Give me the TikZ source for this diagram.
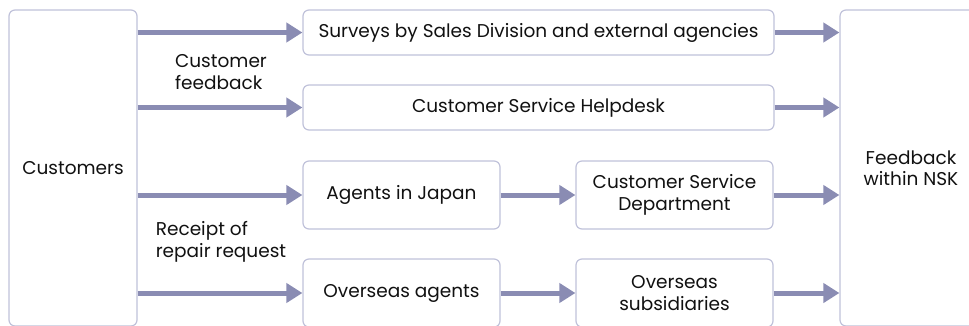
\documentclass[tikz,border=0pt]{standalone}
\usepackage{fontspec}
\setmainfont{Poppins}
\usetikzlibrary{arrows.meta}
\definecolor{arrcol}{HTML}{8A8CB3}
\definecolor{boxcol}{HTML}{C0C2DA}
\definecolor{txtcol}{HTML}{111111}
\tikzset{
  box/.style={draw=boxcol, line width=1.2pt, rounded corners=6pt, fill=white, inner sep=0pt, align=center, text=txtcol},
  arr/.style={draw=arrcol, line width=5pt, -{Triangle[length=16pt 0 0,width=19pt 0 0]}},
  lbl/.style={align=left, text=txtcol, inner sep=0pt}
}
\begin{document}
\begin{tikzpicture}[x=1pt,y=-1pt, font=\fontsize{18.5}{21.5}\selectfont]
\useasboundingbox (0,0) rectangle (969,325);
\begin{scope}
\clip (0,0) rectangle (969,325);
\node[box, minimum width=128pt, minimum height=316pt] (cust) at (73,168) {Customers};
\node[box, minimum width=142pt, minimum height=316pt] (fb) at (911,168) {Feedback\\within NSK};
\node[box, minimum width=471pt, minimum height=45pt] (s1) at (538.5,32.5) {Surveys by Sales Division and external agencies};
\node[box, minimum width=471pt, minimum height=45pt] (s2) at (538.5,107.5) {Customer Service Helpdesk};
\node[box, minimum width=197pt, minimum height=68pt] (aj) at (401.5,195) {Agents in Japan};
\node[box, minimum width=197pt, minimum height=68pt] (csd) at (674.5,195) {Customer Service\\Department};
\node[box, minimum width=197pt, minimum height=68pt] (oa) at (401.5,293) {Overseas agents};
\node[box, minimum width=197pt, minimum height=68pt] (os) at (674.5,293) {Overseas\\subsidiaries};
\end{scope}
\node[lbl] (l1) at (221,72) {Customer\\feedback};
\node[lbl] (l2) at (221,242) {Receipt of\\repair request};
\foreach \n in {s1,s2,aj,oa} {
  \draw[arr] (cust.east |- \n) -- (\n.west);
}
\draw[arr] (aj.east) -- (csd.west);
\draw[arr] (oa.east) -- (os.west);
\foreach \n in {s1,s2,csd,os} {
  \draw[arr] (\n.east) -- (fb.west |- \n);
}
\end{tikzpicture}
\end{document}
